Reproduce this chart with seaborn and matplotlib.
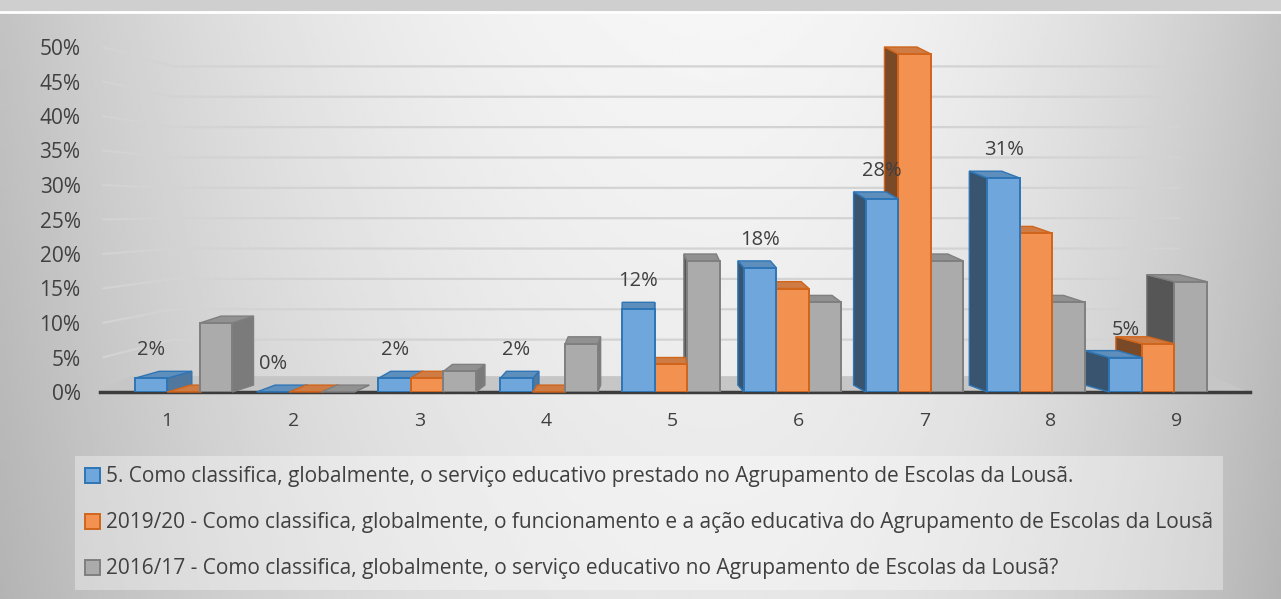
import numpy as np
import pandas as pd
import matplotlib
matplotlib.use("Agg")
import matplotlib.pyplot as plt
from matplotlib.patches import Polygon, Rectangle
from matplotlib.colors import to_rgb
from matplotlib.ticker import PercentFormatter
import seaborn as sns

# ---- data -------------------------------------------------------------
categories = ["1", "2", "3", "4", "5", "6", "7", "8", "9"]
series = [
    "5. Como classifica, globalmente, o serviço educativo prestado no Agrupamento de Escolas da Lousã.",
    "2019/20 - Como classifica, globalmente, o funcionamento e a ação educativa do Agrupamento de Escolas da Lousã",
    "2016/17 - Como classifica, globalmente, o serviço educativo no Agrupamento de Escolas da Lousã?",
]
values_atual = [2, 0, 2, 2, 12, 18, 28, 31, 5]
values_1920 = [0, 0, 2, 0, 4, 15, 49, 23, 7]
values_1617 = [10, 0, 3, 7, 19, 13, 19, 13, 16]
y_ticks = [0, 5, 10, 15, 20, 25, 30, 35, 40, 45, 50]

front_colors = ["#6fa7dc", "#f39150", "#ababab"]
edge_colors = ["#2e75b6", "#d0651c", "#7f7f7f"]
text_color = "#404040"

df = pd.DataFrame({
    "categoria": categories * len(series),
    "serie": np.repeat(series, len(categories)),
    "valor": values_atual + values_1920 + values_1617,
})

# ---- style ------------------------------------------------------------
sns.set_style("white")
plt.rcParams["font.family"] = ["Open Sans", "DejaVu Sans"]
plt.rcParams["text.color"] = text_color
plt.rcParams["xtick.color"] = text_color
plt.rcParams["ytick.color"] = text_color

W, H = 1281, 599
fig = plt.figure(figsize=(W / 100, H / 100), dpi=100)

# background: soft grey gradient, light in the middle
bg = fig.add_axes([0, 0, 1, 1], zorder=-5)
gx = np.linspace(0, 1, 400)
gy = np.linspace(0, 1, 200)
X, Y = np.meshgrid(gx, gy)
cx = 0.56
d = np.where(X < cx, (X - cx) / cx, (X - cx) / (1 - cx))
G = 0.965 - 0.2 * d ** 2 - 0.06 * Y
bg.imshow(G, extent=[0, 1, 0, 1], origin="upper", aspect="auto",
          cmap="gray", vmin=0, vmax=1, interpolation="bilinear")
bg.add_patch(Rectangle((0, 1 - 10 / H), 1, 10 / H, color="#cfcfcf", zorder=2))
bg.axhline(1 - 11.5 / H, color="white", lw=2, zorder=3)
bg.set_xlim(0, 1)
bg.set_ylim(0, 1)
bg.axis("off")

# ---- plot area --------------------------------------------------------
# column spacing in px and the horizontal vanishing point of the 3-D look
COL_PX = 121.8
COL0_PX = 183.6
PX_LEFT, PX_RIGHT = 100, 1250
PX_BASE, PX_TOP = 392, 47
ax = fig.add_axes([PX_LEFT / W, (H - PX_BASE) / H,
                   (PX_RIGHT - PX_LEFT) / W, (PX_BASE - PX_TOP) / H])
ax.set_facecolor("none")

sns.barplot(data=df, x="categoria", y="valor", hue="serie",
            order=categories, hue_order=series, palette=front_colors,
            saturation=1, width=0.8, errorbar=None, linewidth=1.4,
            edgecolor="#555555", ax=ax)

x0 = (PX_LEFT - COL0_PX) / COL_PX
x1 = (PX_RIGHT - COL0_PX) / COL_PX
ax.set_xlim(x0, x1)
ax.set_ylim(0, 50)

VX = (640 - COL0_PX) / COL_PX    # vanishing column
K = 0.05                          # horizontal depth per column distance
DY = 1.0                          # vertical depth in value units
PERSP = 0.965                     # front plane vs. label plane scale

# back-wall gridlines with a short slanted piece on the left wall
x_bend = (173 - COL0_PX) / COL_PX
x_end = (1180 - COL0_PX) / COL_PX
for v in y_ticks[1:]:
    yb = 3.19 + 0.88 * v
    ax.plot([x0 + 0.02, x_bend, x_end], [v, yb, yb], color="#d3d3d3",
            lw=1.6, zorder=1, solid_capstyle="butt")

# floor slab
ax.add_patch(Polygon([(x0, 0), (x1 - 0.02, 0), (x1 - 0.3, 2.3), (x0 + 0.25, 2.3)],
                     closed=True, facecolor="#c6c6c6", edgecolor="none",
                     zorder=1.5, clip_on=False))

# extrude each bar: top and visible side face
for h, cont in enumerate(ax.containers):
    base = np.array(to_rgb(front_colors[h]))
    ec = edge_colors[h]
    for bar in cont:
        x, w, hgt = bar.get_x(), bar.get_width(), bar.get_height()
        xc = x + w / 2
        dx = K * (VX - xc)
        z = 3 + 1.0 / (1.0 + abs(xc - VX))
        bar.set_zorder(z)
        bar.set_edgecolor(ec)
        bar.set_linewidth(1.4)
        top = [(x, hgt), (x + w, hgt), (x + w + dx, hgt + DY), (x + dx, hgt + DY)]
        if dx >= 0:
            side = [(x + w, 0), (x + w + dx, DY), (x + w + dx, hgt + DY), (x + w, hgt)]
            side_col = base * 0.72
        else:
            side = [(x, 0), (x + dx, DY), (x + dx, hgt + DY), (x, hgt)]
            side_col = base * 0.5
        ax.add_patch(Polygon(side, closed=True, facecolor=side_col, edgecolor=ec,
                             lw=1.0, zorder=z - 0.001, clip_on=False))
        ax.add_patch(Polygon(top, closed=True, facecolor=base * 0.85, edgecolor=ec,
                             lw=1.0, zorder=z - 0.0005, clip_on=False))

# value labels on the first series
for bar, v in zip(ax.containers[0], values_atual):
    ax.annotate(f"{v}%", xy=(bar.get_x() + bar.get_width() / 2, v),
                xytext=(0, 20), textcoords="offset points",
                ha="center", va="center", fontsize=14.5, color=text_color,
                zorder=10)

# axes dressing
tick_pos = VX + (np.arange(len(categories)) - VX) / PERSP
ax.set_xticks(tick_pos, labels=categories)
ax.set_yticks(y_ticks)
ax.yaxis.set_major_formatter(PercentFormatter(100, decimals=0))
ax.tick_params(axis="x", length=0, pad=14.5, labelsize=14)
ax.tick_params(axis="y", length=0, pad=14, labelsize=15)
ax.set_xlabel("")
ax.set_ylabel("")
ax.grid(False)
for s in ["left", "right", "top"]:
    ax.spines[s].set_visible(False)
ax.spines["bottom"].set_color("#3c3c3c")
ax.spines["bottom"].set_linewidth(2.5)
ax.spines["bottom"].set_zorder(2)

# legend below the plot
sns.move_legend(ax, "upper left", bbox_to_anchor=(75 / W, 1 - 456 / H),
                bbox_transform=fig.transFigure, title=None, frameon=True,
                fontsize=15, handlelength=0.72, handleheight=0.72,
                handletextpad=0.25, labelspacing=1.2, borderpad=0.5,
                borderaxespad=0, fancybox=False)
leg = ax.get_legend()
leg.get_frame().set_facecolor("white")
leg.get_frame().set_alpha(0.35)
leg.get_frame().set_edgecolor("none")
for hdl, ec in zip(leg.legend_handles, edge_colors):
    hdl.set_edgecolor(ec)
    hdl.set_linewidth(1.4)
for t in leg.get_texts():
    t.set_color(text_color)

fig.savefig("out.png", dpi=100)
